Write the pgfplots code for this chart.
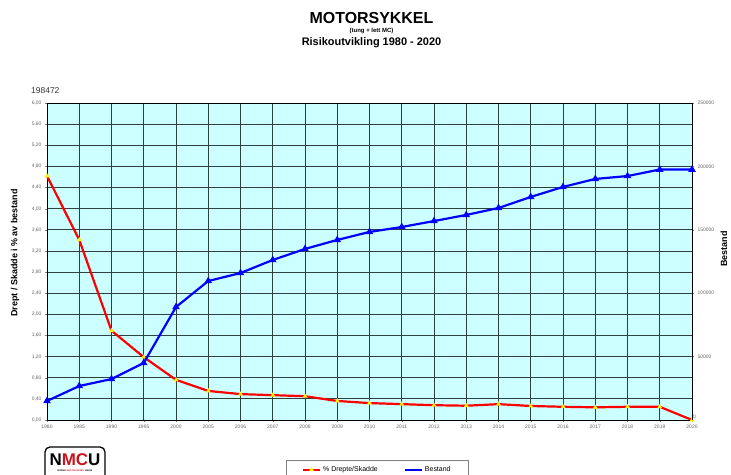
\documentclass[border=0pt]{standalone}
\usepackage{fontspec}
\setmainfont{Liberation Sans}
\usepackage{pgfplots}
\pgfplotsset{compat=1.18}
\definecolor{plotbg}{HTML}{CCFFFF}
\definecolor{gridc}{RGB}{45,65,65}
\definecolor{nmcured}{RGB}{200,20,30}
\begin{document}
\begin{tikzpicture}[x=1bp,y=1bp]
\useasboundingbox (0,0) rectangle (731,475);
% titles
\node[font=\bfseries\fontsize{16}{16}\selectfont] at (371.5,457) {MOTORSYKKEL};
\node[font=\bfseries\fontsize{6}{6}\selectfont] at (371.5,444) {(tung + lett MC)};
\node[font=\bfseries\fontsize{11}{11}\selectfont] at (371.5,432) {Risikoutvikling 1980 - 2020};
\node[font=\fontsize{8.5}{8.5}\selectfont, text=black!80, anchor=west, inner sep=0pt] at (31,384) {198472};
% axis titles
\node[font=\bfseries\fontsize{9}{9}\selectfont, rotate=90] at (15,222) {Drept / Skadde i \% av bestand};
\node[font=\bfseries\fontsize{9}{9}\selectfont, rotate=90] at (724,226) {Bestand};
% logo
\draw[line width=1.3bp, rounded corners=5bp] (45,-6) rectangle (105,28);
\node[font=\bfseries\fontsize{17}{17}\selectfont, inner sep=0pt] at (75,15) {N\textcolor{nmcured}{MC}U};
\node[font=\bfseries\fontsize{2.3}{2.3}\selectfont, inner sep=0pt] at (75,4) {NORSK \textcolor{nmcured}{MOTORSYKKEL} UNION};

\begin{axis}[
  at={(47bp,55bp)}, anchor=south west,
  width=645bp, height=317bp, scale only axis,
  xmin=0, xmax=20, ymin=0, ymax=6,
  axis background/.style={fill=plotbg},
  xtick={0,...,20},
  xticklabels={1980,1985,1990,1995,2000,2005,2006,2007,2008,2009,2010,2011,2012,2013,2014,2015,2016,2017,2018,2019,2020},
  ytick={0,0.4,0.8,1.2,1.6,2,2.4,2.8,3.2,3.6,4,4.4,4.8,5.2,5.6,6},
  yticklabel style={/pgf/number format/.cd,fixed,fixed zerofill,precision=2,use comma},
  /pgf/number format/assume math mode=true,
  xtick pos=bottom, ytick pos=left,
  tick align=outside, major tick length=2bp,
  grid=major, major grid style={gridc, line width=0.8bp},
  axis line style={black, line width=0.9bp},
  tick label style={font=\fontsize{5}{5}\selectfont, text=black!60},
  clip=false,
  legend style={at={(0.512,-0.127)}, anchor=north, legend columns=2, draw=black!50,
    font=\fontsize{7}{7}\selectfont, inner xsep=16bp, inner ysep=4bp,
    /tikz/every even column/.append style={column sep=24bp}},
  legend cell align=left,
]
\addplot[red, line width=2.2bp, mark=triangle*, mark size=2.4bp,
  mark options={fill=yellow, draw=yellow, line width=0.3bp}] coordinates {
(0,4.62) (1,3.41) (2,1.69) (3,1.19) (4,0.76) (5,0.55) (6,0.49) (7,0.47) (8,0.45)
(9,0.36) (10,0.32) (11,0.30) (12,0.28) (13,0.27) (14,0.30) (15,0.265) (16,0.25)
(17,0.24) (18,0.25) (19,0.25) (20,0)};
\addlegendentry{\% Drepte/Skadde}
\addlegendimage{blue, line width=2.2bp}
\addlegendentry{Bestand}
\node[font=\fontsize{5}{5}\selectfont, text=black!60, anchor=south west, inner sep=1bp] at (axis cs:20,0) {0};
\end{axis}

\begin{axis}[
  at={(47bp,55bp)}, anchor=south west,
  width=645bp, height=317bp, scale only axis,
  xmin=0, xmax=20, ymin=0, ymax=250000,
  axis y line*=right, axis x line=none,
  ytick={50000,100000,150000,200000,250000},
  scaled y ticks=false,
  yticklabel style={/pgf/number format/.cd,fixed,1000 sep={}},
  /pgf/number format/assume math mode=true,
  tick align=outside, major tick length=2bp,
  axis line style={black, line width=0.9bp},
  tick label style={font=\fontsize{5}{5}\selectfont, text=black!60},
]
\addplot[blue, line width=2.2bp, mark=triangle*, mark size=2.2bp, mark options={fill=blue}] coordinates {
(0,15000) (1,26800) (2,32300) (3,45000) (4,89100) (5,109600) (6,115900) (7,126200)
(8,134900) (9,142000) (10,148300) (11,152200) (12,156900) (13,161700) (14,167200)
(15,175900) (16,183800) (17,190100) (18,192400) (19,197500) (20,197500)};
\end{axis}
\end{tikzpicture}
\end{document}
